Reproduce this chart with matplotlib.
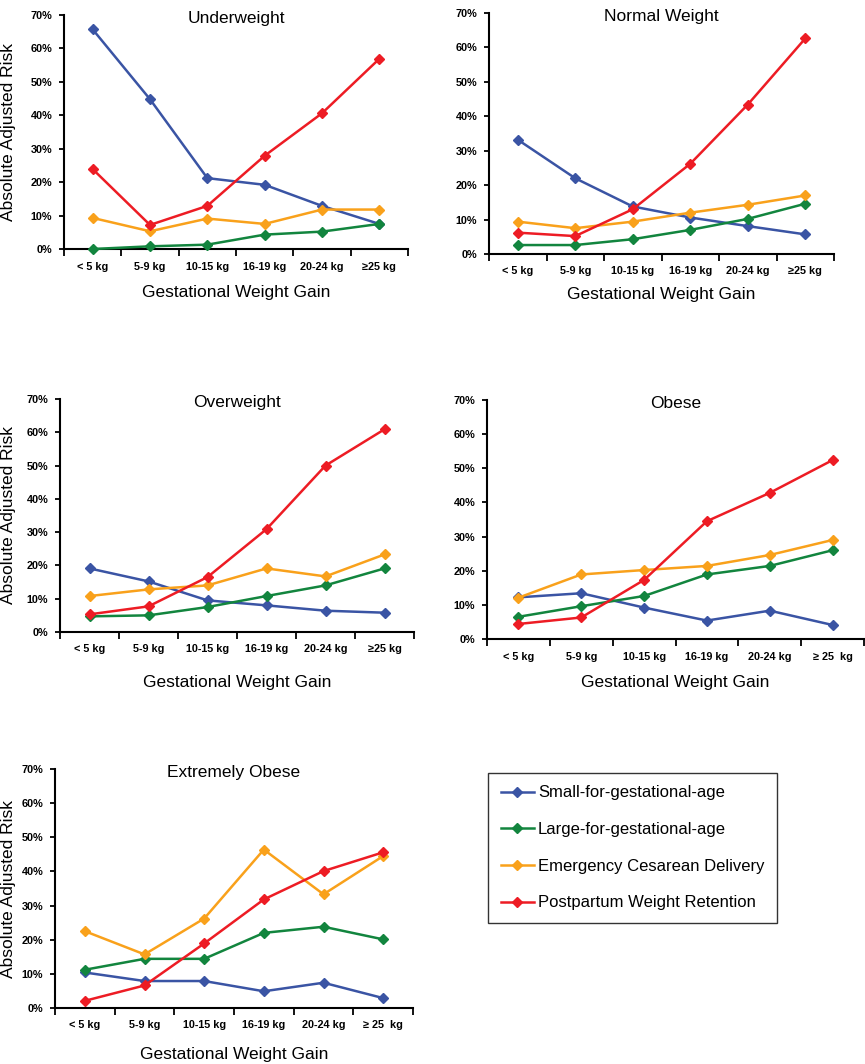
import matplotlib
matplotlib.use("Agg")
import matplotlib.pyplot as plt
from matplotlib.ticker import FixedLocator, PercentFormatter
from matplotlib.lines import Line2D
from matplotlib.transforms import offset_copy

plt.rcParams['font.family'] = ['Liberation Sans', 'DejaVu Sans']

categories = ["< 5 kg", "5-9 kg", "10-15 kg", "16-19 kg", "20-24 kg", "\u226525 kg"]
categories_alt = ["< 5 kg", "5-9 kg", "10-15 kg", "16-19 kg", "20-24 kg", "\u2265 25  kg"]

series_names = ["Small-for-gestational-age", "Large-for-gestational-age",
                "Emergency Cesarean Delivery", "Postpartum Weight Retention"]
series_colors = ["#3a54a4", "#12853e", "#f9a11b", "#ed1c24"]

panel_titles = ["Underweight", "Normal Weight", "Overweight", "Obese", "Extremely Obese"]

# values in percent: [SGA, LGA, Emergency CS, PPWR]
underweight_sga = [65.7, 44.8, 21.2, 19.2, 12.9, 7.5]
underweight_lga = [0.0, 0.8, 1.3, 4.3, 5.2, 7.5]
underweight_ecs = [9.3, 5.3, 9.1, 7.5, 11.8, 11.8]
underweight_ppwr = [23.9, 7.2, 12.9, 27.9, 40.6, 56.9]

normal_sga = [33.2, 22.0, 13.8, 10.6, 8.1, 5.7]
normal_lga = [2.6, 2.6, 4.3, 7.0, 10.2, 14.6]
normal_ecs = [9.4, 7.5, 9.4, 12.0, 14.3, 17.0]
normal_ppwr = [6.2, 5.2, 13.0, 26.2, 43.4, 62.6]

overweight_sga = [19.1, 15.2, 9.5, 8.0, 6.4, 5.8]
overweight_lga = [4.7, 5.0, 7.5, 10.8, 14.0, 19.1]
overweight_ecs = [10.8, 12.8, 14.0, 19.1, 16.7, 23.3]
overweight_ppwr = [5.3, 7.7, 16.5, 30.9, 50.0, 60.9]

obese_sga = [12.2, 13.4, 9.2, 5.4, 8.3, 4.1]
obese_lga = [6.5, 9.6, 12.6, 18.9, 21.4, 26.0]
obese_ecs = [12.1, 18.9, 20.2, 21.4, 24.6, 29.0]
obese_ppwr = [4.4, 6.3, 17.3, 34.5, 42.8, 52.4]

extobese_sga = [10.4, 7.9, 7.9, 4.9, 7.4, 2.9]
extobese_lga = [11.2, 14.4, 14.4, 22.0, 23.8, 20.1]
extobese_ecs = [22.5, 15.7, 26.2, 46.4, 33.3, 44.5]
extobese_ppwr = [2.1, 6.6, 18.9, 31.8, 40.1, 45.6]

panels = [
    [underweight_sga, underweight_lga, underweight_ecs, underweight_ppwr],
    [normal_sga, normal_lga, normal_ecs, normal_ppwr],
    [overweight_sga, overweight_lga, overweight_ecs, overweight_ppwr],
    [obese_sga, obese_lga, obese_ecs, obese_ppwr],
    [extobese_sga, extobese_lga, extobese_ecs, extobese_ppwr],
]

W, H = 865, 1064
# axes rectangles in pixels: left, top, right, bottom
rects = [
    (64, 15, 408, 249),
    (489, 13, 834, 254),
    (60, 399, 414, 632),
    (487, 400, 864, 639),
    (55, 769, 413, 1008),
]
xlabel_offsets = [44, 40, 50, 43, 46]
show_ylabel = [True, False, True, False, True]
tick_sets = [categories, categories, categories, categories_alt, categories_alt]

fig = plt.figure(figsize=(W / 100, H / 100), dpi=100)

axes = []
for i, (l, t, r, b) in enumerate(rects):
    ax = fig.add_axes([l / W, 1 - b / H, (r - l) / W, (b - t) / H])
    axes.append(ax)
    xs = list(range(len(categories)))
    for vals, col, name in zip(panels[i], series_colors, series_names):
        ax.plot(xs, vals, color=col, lw=1.8, marker='D', ms=4.8,
                markeredgecolor=col, label=name, clip_on=False, zorder=3)
    ax.set_xlim(-0.5, 5.5)
    ax.set_ylim(0, 70)
    ax.set_yticks(range(0, 71, 10))
    ax.yaxis.set_major_formatter(PercentFormatter(decimals=0))
    ax.set_xticks(xs)
    ax.set_xticklabels(tick_sets[i])
    ax.xaxis.set_minor_locator(FixedLocator([x - 0.5 for x in range(len(categories) + 1)]))
    ax.tick_params(axis='x', which='major', length=0, pad=9, labelsize=7.8)
    ax.tick_params(axis='x', which='minor', length=5, width=1.3, direction='out')
    ax.tick_params(axis='y', length=3.5, width=1.3, direction='out', pad=5, labelsize=7.8)
    for lab in ax.get_xticklabels() + ax.get_yticklabels():
        lab.set_fontweight('bold')
    for s in ['top', 'right']:
        ax.spines[s].set_visible(False)
    for s in ['left', 'bottom']:
        ax.spines[s].set_linewidth(1.5)
    tr = offset_copy(ax.transAxes, fig=fig, x=0, y=-8, units='dots')
    ax.text(0.5, 1.0, panel_titles[i], transform=tr, ha='center',
            va='baseline', fontsize=12.5)
    ax.set_xlabel("Gestational Weight Gain", fontsize=12.5)
    hpx = b - t
    ax.xaxis.set_label_coords(0.5, -xlabel_offsets[i] / hpx)
    ax.xaxis.label.set_va('center')
    if show_ylabel[i]:
        ax.set_ylabel("Absolute Adjusted Risk", fontsize=12.5)
        ax.yaxis.set_label_coords(-(l - 9) / (r - l), 0.5)
        ax.yaxis.label.set_va('center')

handles = [Line2D([0], [0], color=c, lw=1.8, marker='D', ms=4.8) for c in series_colors]
leg = fig.legend(handles, series_names, loc='upper left',
                 bbox_to_anchor=(488 / W, 1 - 773 / H), fontsize=12,
                 frameon=True, fancybox=False, edgecolor='black',
                 handlelength=2.0, handletextpad=0.25, labelspacing=1.3,
                 borderpad=0.75, borderaxespad=0)
leg.get_frame().set_linewidth(1.0)

fig.savefig("out.png", dpi=100)
